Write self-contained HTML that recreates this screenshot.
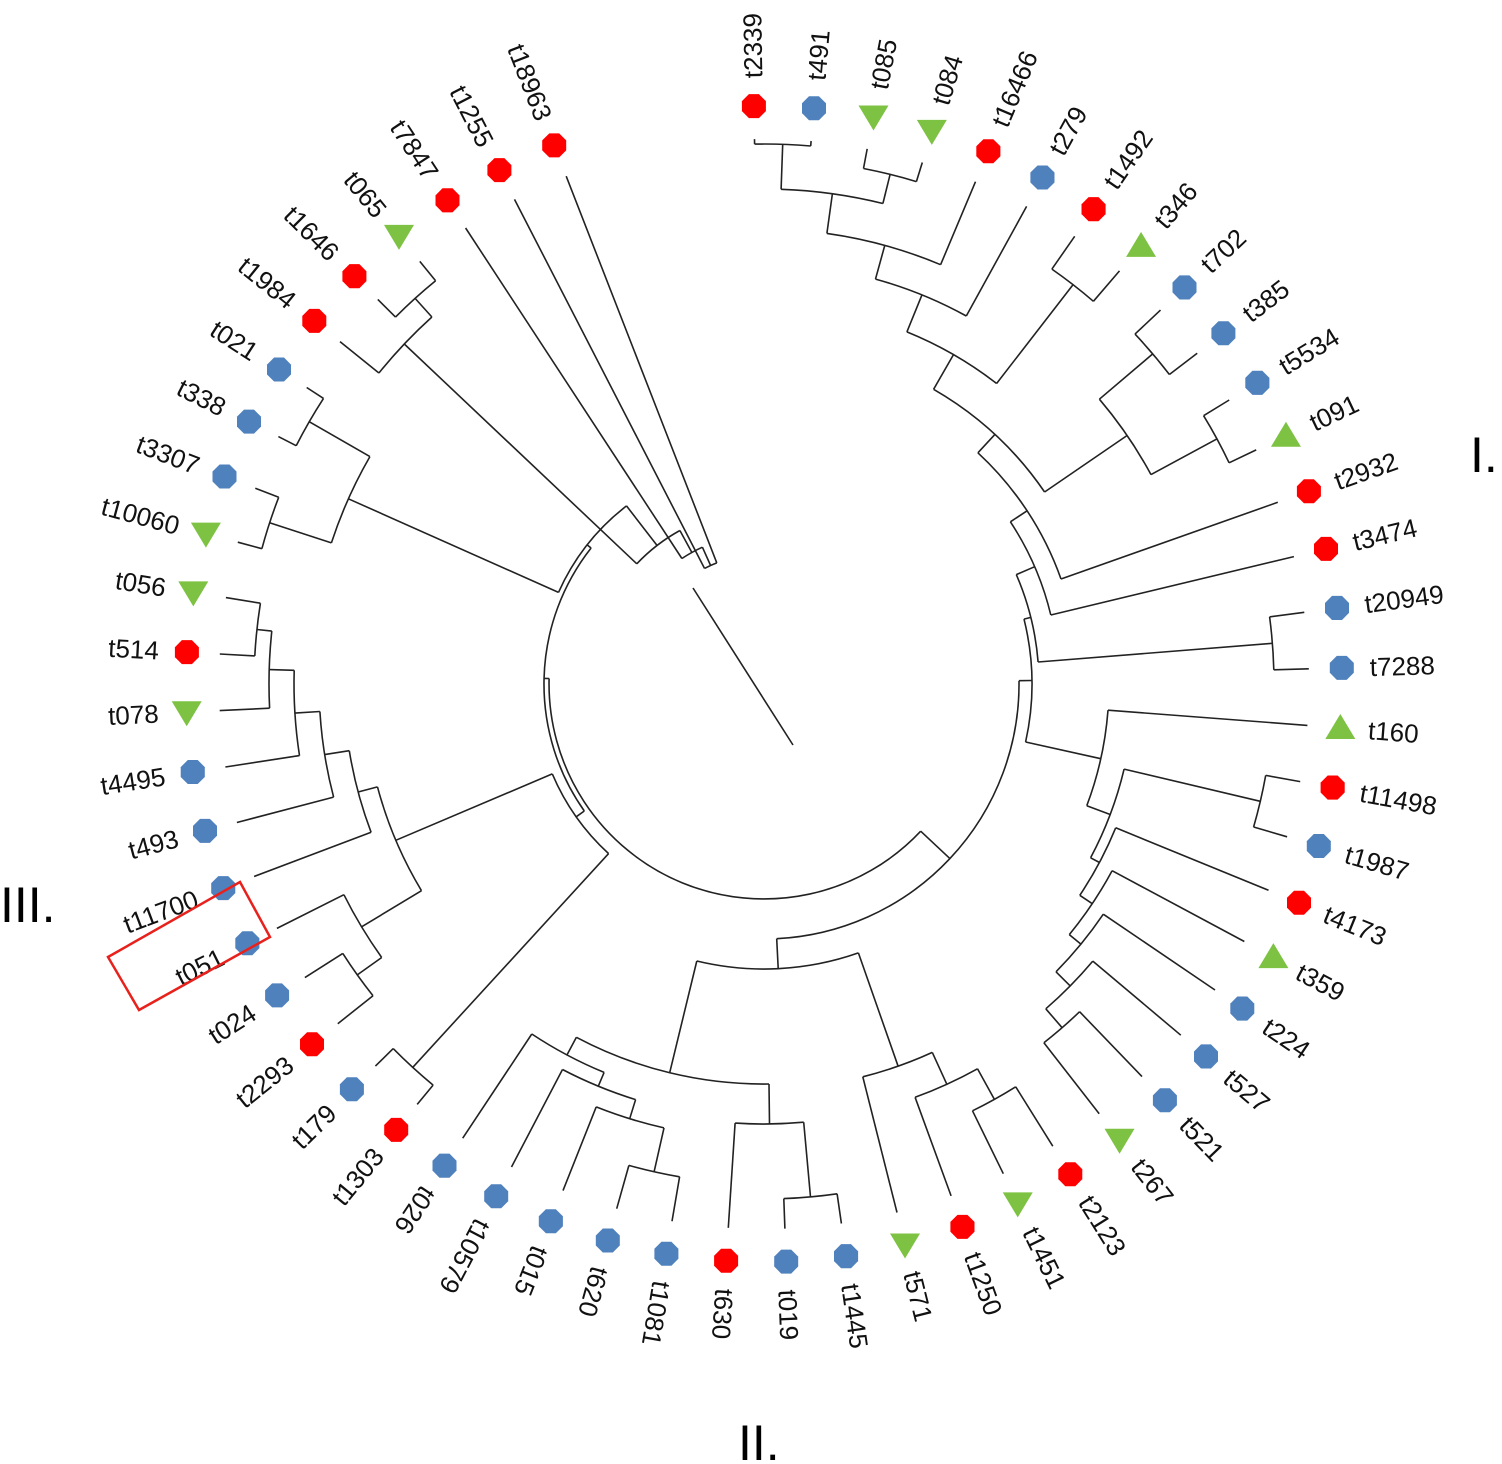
<!DOCTYPE html>
<html><head><meta charset="utf-8"><style>
html,body{margin:0;padding:0;background:#fff;}
svg{display:block;font-family:"Liberation Sans",sans-serif;}
</style></head><body>
<svg id="chart" width="1502" height="1464" viewBox="0 0 1502 1464">
<g id="branches" stroke="#222" stroke-width="1.6" fill="none"></g>
<g id="markers"></g>
<g id="labels" font-size="26" fill="#111"></g>
<polygon points="108,957 240,882 270,937 139,1010" fill="none" stroke="#e8211c" stroke-width="2.5"/>
<text x="1470" y="472" font-size="50">I.</text>
<text x="738" y="1460" font-size="50">II.</text>
<text x="0" y="922" font-size="50">III.</text>
</svg>
<script>
const tipNames = ["t2339","t491","t085","t084","t16466","t279","t1492","t346","t702","t385","t5534","t091","t2932","t3474","t20949","t7288","t160","t11498","t1987","t4173","t359","t224","t527","t521","t267","t2123","t1451","t1250","t571","t1445","t019","t630","t1081","t620","t015","t10579","t026","t1303","t179","t2293","t024","t051","t11700","t493","t4495","t078","t514","t056","t10060","t3307","t338","t021","t1984","t1646","t065","t7847","t1255","t18963"];
const tipTypes = ["r","b","g","g","r","b","r","g","b","b","b","g","r","r","b","b","g","r","b","r","g","b","b","b","g","r","g","r","g","b","b","r","b","b","b","b","b","r","b","r","b","b","b","b","b","g","r","g","g","b","b","b","r","r","g","r","r","r"];
// tree: [nodeRadius, child, child, ...]
const cladeI = [275,[295,[315,[340,[380,[420,[455,[495,[540,"t2339","t491"],[525,"t085","t084"]],"t16466"],"t279"],[505,"t1492","t346"]],[440,[510,"t702","t385"],[515,"t5534","t091"]]],"t2932"],"t3474"],[510,"t20949","t7288"]];
const cladeR = [345,"t160",[370,[510,"t11498","t1987"],[380,"t4173",[395,"t359",[410,"t224",[430,"t527",[455,"t521","t267"]]]]]]];
const cladeII = [285,[400,[420,"t026",[435,"t10579",[455,"t015",[500,"t1081","t620"]]]],[440,"t630",[515,"t1445","t019"]]],[405,"t571",[440,"t1250",[475,"t1451","t2123"]]]];
const cladeIII = [230,[400,[420,[445,[470,[495,[510,"t056","t514"],"t078"],"t4495"],"t493"],"t11700"],[470,"t051",[500,"t024","t2293"]]],[520,"t179","t1303"]];
const cladeTL = [225,[455,[525,"t021","t338"],[520,"t3307","t10060"]],[175,[495,"t1984",[520,"t1646","t065"]],[150,"t7847",[130,"t1255","t18963"]]]];
const tree = [215,[220,cladeIII,cladeTL],[255,cladeII,[268,cladeI,cladeR]]];

const CX=764, CY=684, TIP_R=545, MARK_R=578, LAB_R=606, STEP=5.96, START=-1;
const NS="http://www.w3.org/2000/svg";
const colors={r:"#ff0000",b:"#4f81bd",g:"#7dc242"};
function pt(r,a){const t=a*Math.PI/180;return [CX+r*Math.sin(t),CY-r*Math.cos(t)];}
function tipAngle(name){return START+STEP*tipNames.indexOf(name);}
const br=document.getElementById('branches');
function mk(tag,attrs,parent){const e=document.createElementNS(NS,tag);for(const k in attrs)e.setAttribute(k,attrs[k]);parent.appendChild(e);return e;}
function layout(node){
  if(typeof node==="string") return {a:tipAngle(node),r:TIP_R};
  const r=node[0];const kids=node.slice(1).map(layout);
  const angs=kids.map(k=>k.a);const a0=Math.min(...angs),a1=Math.max(...angs);
  kids.forEach(k=>{const p=pt(r,k.a),q=pt(k.r,k.a);
    const l=mk('line',{x1:p[0].toFixed(1),y1:p[1].toFixed(1),x2:q[0].toFixed(1),y2:q[1].toFixed(1)},br);
    
    });
  const s=pt(r,a0),e=pt(r,a1);
  const arc=mk('path',{d:`M${s[0].toFixed(1)},${s[1].toFixed(1)} A${r},${r} 0 ${(a1-a0)>180?1:0} 1 ${e[0].toFixed(1)},${e[1].toFixed(1)}`},br);
  
  
  return {a:(a0+a1)/2,r:r};
}
layout(tree);
const rl=mk('line',{x1:793,y1:745,x2:693,y2:588},br);



const mg=document.getElementById('markers'),lg=document.getElementById('labels');
tipNames.forEach((n,i)=>{
  const a=tipAngle(n);const [x,y]=pt(MARK_R,a);const t=tipTypes[i];
  let m;
  if(t==="g"){
    const up=(a>40&&a<135);
    const pts=up?`${x},${y-14} ${x-15},${y+11} ${x+15},${y+11}`:`${x},${y+14} ${x-15},${y-11} ${x+15},${y-11}`;
    m=mk('polygon',{points:pts,fill:colors.g},mg);
  } else {
    let p=[];for(let k=0;k<8;k++){const an=(k*45+22.5)*Math.PI/180;p.push((x+13*Math.cos(an)).toFixed(1)+","+(y+13*Math.sin(an)).toFixed(1));}
    m=mk('polygon',{points:p.join(" "),fill:colors[t]},mg);
  }
  
  
  const [lx,ly]=pt(LAB_R,a);
  let rot,anchor;
  if(a>=-30&&a<215){rot=a-90;anchor="start";}else{rot=a+90;anchor="end";}
  const tx=mk('text',{x:lx.toFixed(1),y:ly.toFixed(1),'text-anchor':anchor,'dominant-baseline':'central',transform:`rotate(${rot.toFixed(1)} ${lx.toFixed(1)} ${ly.toFixed(1)})`},lg);
  tx.textContent=n;
  
  
});
</script>
</body></html>
